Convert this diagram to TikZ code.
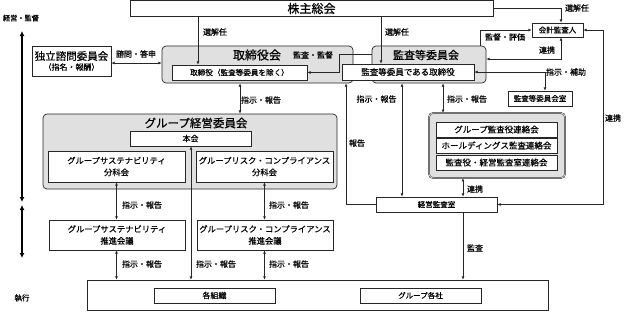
\documentclass[tikz,border=0pt]{standalone}
\usepackage{fontspec}
\setmainfont{Noto Sans CJK JP}[FakeBold=0.5]
\usetikzlibrary{arrows.meta}
\newcommand{\myfs}[1]{\fontsize{#1}{#1}\selectfont}
\begin{document}
\begin{tikzpicture}[x=1pt,y=-1pt,
  box/.style={draw=black!85, fill=white, inner sep=0pt, line width=0.7pt, font=\myfs{8}},
  outer/.style={draw=black!85, fill=black!12, rounded corners=4pt, inner sep=0pt, line width=0.7pt},
  lbl/.style={font=\myfs{8}, inner sep=0pt},
  conn/.style={draw=black!85, line width=0.6pt, -{Latex[length=3.2pt,width=2.8pt]}},
  bi/.style={draw=black!85, line width=0.6pt, {Latex[length=3.2pt,width=2.8pt]}-{Latex[length=3.2pt,width=2.8pt]}},
  axis/.style={line width=1.6pt, {Latex[length=5pt,width=5pt]}-{Latex[length=5pt,width=5pt]}}]
\useasboundingbox (0,0) rectangle (624,311);

% left axis
\coordinate (ax1) at (22,31);
\coordinate (ax2) at (22,202);
\coordinate (ax3) at (22,205);
\coordinate (ax4) at (22,258);
\draw[axis] (ax1) -- (ax2);
\draw[axis] (ax3) -- (ax4);
\node[lbl, font=\myfs{7.2}] (lkeiei) at (21,18) {経営・監督};
\node[lbl, font=\myfs{7.5}] (lshikko) at (22,298) {執行};

% top
\node[box, minimum width=363, minimum height=15.5, font=\myfs{12}] (kabu) at (311.5,8.5) {株主総会};
\node[box, minimum width=79, minimum height=30, align=center] (dok) at (71.5,61) {{\myfs{10.5}独立諮問委員会}\\[2pt]{\myfs{8}（指名・報酬）}};

% boards
\node[outer, minimum width=191, minimum height=37] (torikai) at (257.5,64.5) {};
\node[outer, minimum width=114, minimum height=37] (kansakai) at (429,64.5) {};
\node[lbl, font=\myfs{12}] (toriT) at (257,55) {取締役会};
\node[lbl, font=\myfs{11}] (kansaT) at (426,55) {監査等委員会};
\node[lbl] (kantoku) at (313,55) {監査・監督};
\node[box, minimum width=135, minimum height=15, font=\myfs{7.6}] (tori) at (239.5,72.5) {取締役（監査等委員を除く）};
\node[box, minimum width=132, minimum height=16, font=\myfs{8.5}] (ktori) at (408,72) {監査等委員である取締役};

\node[box, minimum width=51, minimum height=14, font=\myfs{7.5}] (kaikei) at (557.5,30) {会計監査人};
\node[box, minimum width=64, minimum height=15, font=\myfs{7.5}] (kshitsu) at (540,98.5) {監査等委員会室};

% group management committee
\node[outer, minimum width=294, minimum height=75] (gkeiei) at (190,151.5) {};
\node[lbl, font=\myfs{11.5}] (gkeieiT) at (196,123) {グループ経営委員会};
\node[box, minimum width=121, minimum height=15] (honkai) at (190.5,138.5) {本会};
\node[box, minimum width=137, minimum height=31, align=center, font=\myfs{8.3}] (sbunka) at (116.5,166.5) {グループサステナビリティ\\[3.5pt]分科会};
\node[box, minimum width=137, minimum height=31, align=center, font=\myfs{8.3}] (rbunka) at (264.5,166.5) {グループリスク・コンプライアンス\\[3.5pt]分科会};
\node[box, minimum width=136, minimum height=30, align=center, font=\myfs{8.3}] (ssui) at (117,235) {グループサステナビリティ\\[3.5pt]推進会議};
\node[box, minimum width=136, minimum height=30, align=center, font=\myfs{8.3}] (rsui) at (265,235) {グループリスク・コンプライアンス\\[3.5pt]推進会議};

% bottom
\node[box, minimum width=461, minimum height=30] (bottom) at (317.5,295) {};
\node[box, minimum width=121, minimum height=15] (soshiki) at (214.5,295.5) {各組織};
\node[box, minimum width=121, minimum height=15, font=\myfs{7.5}] (kakusha) at (420.5,295.5) {グループ各社};

% audit
\node[box, minimum width=121, minimum height=15, font=\myfs{7.5}] (keieikansa) at (436.5,204.5) {経営監査室};
\node[outer, double=white, double distance=0.6pt, line width=0.5pt, minimum width=136, minimum height=65] (renraku) at (497,145.5) {};
\node[box, minimum width=121, minimum height=15, font=\myfs{8.5}] (r1) at (496.5,129.5) {グループ監査役連絡会};
\node[box, minimum width=121, minimum height=15, font=\myfs{8.5}] (r2) at (496.5,145.5) {ホールディングス監査連絡会};
\node[box, minimum width=121, minimum height=15, font=\myfs{8.5}] (r3) at (496.5,162.5) {監査役・経営監査室連絡会};

% connectors
\draw[conn] (kabu.south -| 198,0) -- (tori.north -| 198,0);
\node[lbl] (l1) at (215,32) {選解任};
\draw[conn] (kabu.south -| 381,0) -- (ktori.north -| 381,0);
\node[lbl] (l2) at (397,32) {選解任};
\draw[conn] (kabu.east) -| (kaikei.north -| 561,0);
\node[lbl] (l3) at (577,8) {選解任};
\draw[conn] (kansakai.north -| 480,0) |- (kaikei.west);
\node[lbl] (l4) at (505,37) {監督・評価};
\draw[bi] (kaikei.south -| 561,0) |- (kansakai.east |- 0,59);
\node[lbl] (l5) at (547,50) {連携};
\draw[bi] (ktori.east) -| (kshitsu.north -| 545,0);
\node[lbl] (l6) at (566,72) {指示・補助};
\draw[bi] (kaikei.east) -- (kaikei.east -| 603,0) -- (keieikansa.east -| 603,0) -- (keieikansa.east);
\node[lbl] (l7) at (613,118) {連携};
\draw[bi] (dok.east |- 0,63) -- (torikai.west |- 0,63);
\node[lbl] (l8) at (136,54) {諮問・答申};
\draw[conn] (kansakai.west |- 0,54) -| (tori.east -| 339,0) -- (tori.east);
\draw[bi] (torikai.south -| 240,0) -- (gkeiei.north -| 240,0);
\node[lbl] (l9) at (261,100) {指示・報告};
\draw[conn] (keieikansa.west) -| (torikai.south -| 346,0);
\node[lbl] (l10) at (357,143) {報告};
\draw[bi] (kansakai.south -| 402,0) -- (keieikansa.north -| 402,0);
\node[lbl] (l11) at (376.5,99) {指示・報告};
\draw[bi] (kansakai.south -| 443,0) -- (renraku.north -| 443,0);
\node[lbl] (l12) at (467,99) {指示・報告};
\draw[bi] (renraku.south -| 463,0) -- (keieikansa.north -| 463,0);
\node[lbl] (l13) at (475,189) {連携};
\draw[conn] (keieikansa.south -| 463,0) -- (bottom.north -| 463,0);
\node[lbl] (l14) at (475,248) {監査};
\draw[bi] (sbunka.south) -- (ssui.north -| sbunka.south);
\node[lbl] (l15) at (142,205) {指示・報告};
\draw[bi] (ssui.south -| sbunka.south) -- (bottom.north -| sbunka.south);
\node[lbl] (l16) at (142,264) {指示・報告};
\draw[bi] (rbunka.south) -- (rsui.north -| rbunka.south);
\node[lbl] (l17) at (289,205) {指示・報告};
\draw[bi] (rsui.south -| rbunka.south) -- (bottom.north -| rbunka.south);
\node[lbl] (l18) at (289,264) {指示・報告};
\draw[bi] (honkai.south -| 191,0) -- (bottom.north -| 191,0);
\node[lbl] (l19) at (216,264) {指示・報告};
\end{tikzpicture}
\end{document}
